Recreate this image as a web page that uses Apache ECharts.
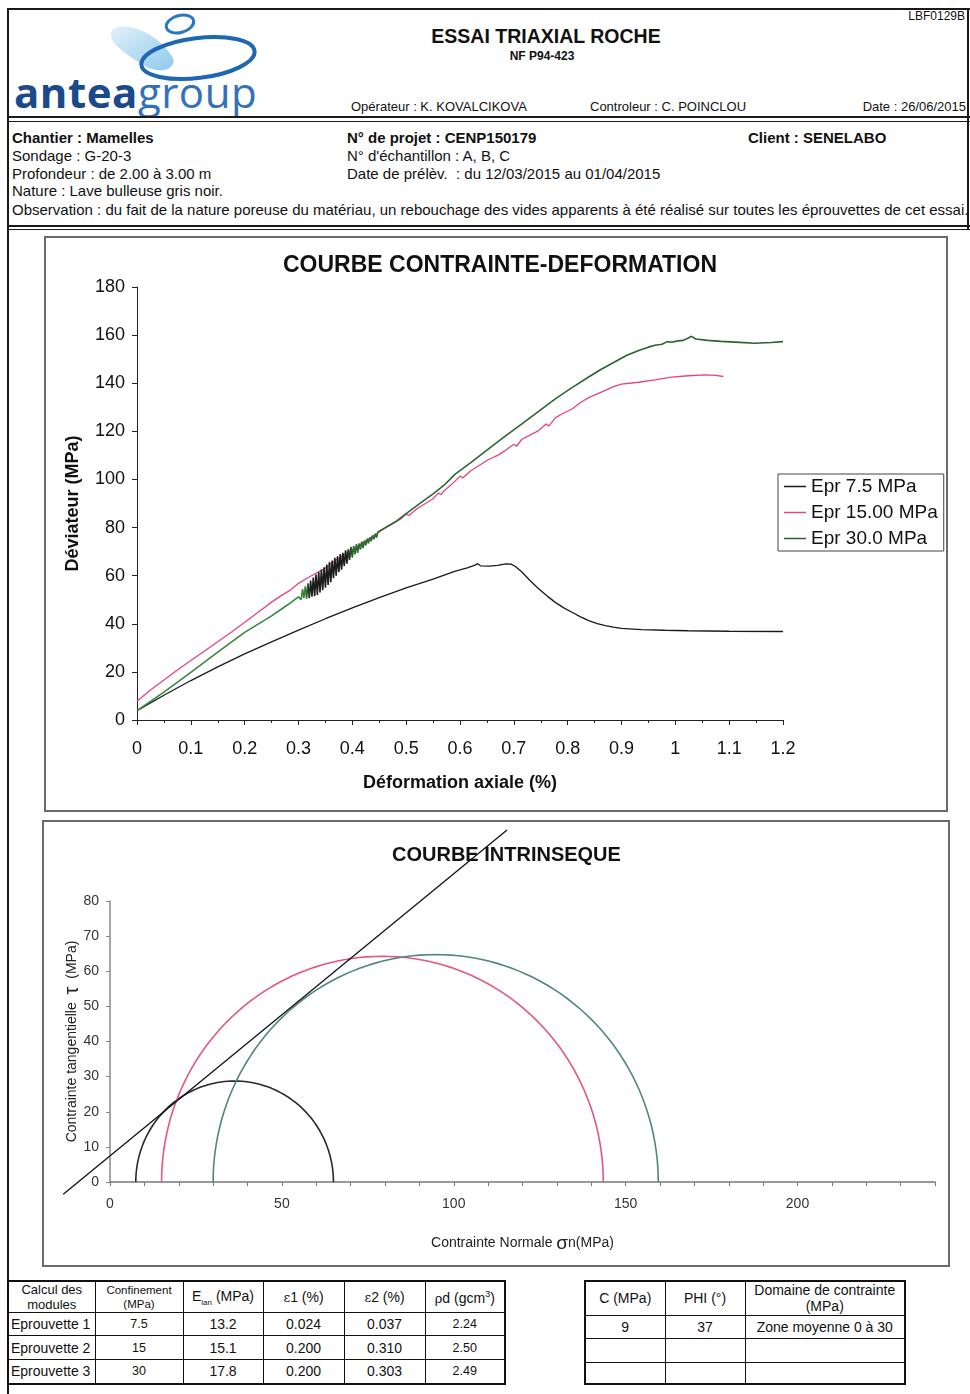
<!DOCTYPE html>
<html lang="fr">
<head>
<meta charset="utf-8">
<title>Essai triaxial roche</title>
<script src="https://cdn.jsdelivr.net/npm/echarts@6/dist/echarts.min.js"></script>
<style>
  html, body { margin: 0; padding: 0; background: #fff; }
  body { width: 970px; height: 1394px; position: relative; overflow: hidden;
         font-family: "Liberation Sans", Arial, sans-serif; color: #111; }
  .a { position: absolute; white-space: nowrap; }
  .hl { position: absolute; background: #1a1a1a; }
  .box { position: absolute; border: 2px solid #6a6a6a; box-sizing: border-box; pointer-events: none; }
  .chart { position: absolute; }
  table.grid { position: absolute; border-collapse: collapse; table-layout: fixed;
               border: 2px solid #111; font-size: 14px; }
  table.grid td { border: 1px solid #111; padding: 0; text-align: center; vertical-align: middle;
                  overflow: hidden; white-space: nowrap; }
  table.grid td.lbl { text-align: left; padding-left: 2px; }
  .gk { font-family: "DejaVu Serif", "Liberation Serif", serif; font-size: 13px; }
</style>
</head>
<body>

<!-- page frame -->
<div class="hl" style="left:7px;top:8px;width:963px;height:2px"></div>
<div class="hl" style="left:7px;top:8px;width:2px;height:1390px"></div>
<div class="hl" style="left:967px;top:8px;width:2px;height:222px"></div>

<!-- logo -->
<svg class="a" style="left:0;top:0" width="270" height="120">
  <defs>
    <linearGradient id="blob" x1="0" y1="0" x2="1" y2="1">
      <stop offset="0" stop-color="#e2f1fa"/>
      <stop offset="1" stop-color="#8ecaec"/>
    </linearGradient>
  </defs>
  <path d="M112,30 C127,19 160,35 173,58 C177,69 160,75 145,66 C129,56 105,42 112,30 Z" fill="url(#blob)"/>
  <ellipse cx="198" cy="58" rx="57" ry="20" transform="rotate(-7 198 58)" fill="none" stroke="#1f67b1" stroke-width="4"/>
  <ellipse cx="180" cy="24" rx="14" ry="8.5" transform="rotate(-15 180 24)" fill="none" stroke="#2a78c0" stroke-width="3"/>
</svg>
<div class="a" style="left:14px;top:71px;font-family:'Open Sans',sans-serif;font-size:42px;line-height:42px;letter-spacing:0.5px">
  <span style="font-weight:bold;color:#1b4a8a">antea</span><span style="color:#3471b8">group</span>
</div>

<!-- header -->
<div class="a" style="left:346px;width:400px;text-align:center;top:25px;font-size:19.5px;line-height:22px;font-weight:bold">ESSAI TRIAXIAL ROCHE</div>
<div class="a" style="left:442px;width:200px;text-align:center;top:49px;font-size:12px;line-height:14px;font-weight:bold">NF P94-423</div>
<div class="a" style="left:865px;width:100px;text-align:right;top:9px;font-size:12px;line-height:14px">LBF0129B</div>
<div class="a" style="left:351px;top:99px;font-size:13px;line-height:15px">Opérateur : K. KOVALCIKOVA</div>
<div class="a" style="left:590px;top:99px;font-size:13px;line-height:15px">Controleur : C. POINCLOU</div>
<div class="a" style="left:766px;width:200px;text-align:right;top:99px;font-size:13px;line-height:15px">Date : 26/06/2015</div>
<div class="hl" style="left:7px;top:116px;width:963px;height:2px"></div>
<div class="hl" style="left:7px;top:121px;width:963px;height:1px"></div>

<!-- identification block -->
<div class="a" style="left:12px;top:129px;font-size:15px;line-height:17px;font-weight:bold">Chantier : Mamelles</div>
<div class="a" style="left:12px;top:147px;font-size:15px;line-height:17px">Sondage : G-20-3</div>
<div class="a" style="left:12px;top:165px;font-size:15px;line-height:17px">Profondeur : de 2.00 à 3.00 m</div>
<div class="a" style="left:12px;top:182px;font-size:15px;line-height:17px">Nature : Lave bulleuse gris noir.</div>
<div class="a" style="left:12px;top:201px;width:956px;overflow:hidden;font-size:15px;line-height:17px">Observation : du fait de la nature poreuse du matériau, un rebouchage des vides apparents à été réalisé sur toutes les éprouvettes de cet essai.</div>
<div class="a" style="left:347px;top:129px;font-size:15px;line-height:17px;font-weight:bold">N° de projet : CENP150179</div>
<div class="a" style="left:347px;top:147px;font-size:15px;line-height:17px">N° d'échantillon : A, B, C</div>
<div class="a" style="left:347px;top:165px;font-size:15px;line-height:17px">Date de prélèv.&nbsp; : du 12/03/2015 au 01/04/2015</div>
<div class="a" style="left:748px;top:129px;font-size:15px;line-height:17px;font-weight:bold">Client : SENELABO</div>
<div class="hl" style="left:7px;top:225px;width:963px;height:2px"></div>
<div class="hl" style="left:7px;top:229px;width:963px;height:1px"></div>

<!-- charts -->
<div id="stress" class="chart" style="left:44px;top:236px;width:904px;height:576px"></div>
<div class="box" style="left:44px;top:236px;width:904px;height:576px"></div>
<div id="mohr" class="chart" style="left:42px;top:820px;width:908px;height:447px"></div>
<div class="box" style="left:42px;top:820px;width:908px;height:447px"></div>

<!-- module table -->
<table class="grid" style="left:7px;top:1280px;width:497px">
  <colgroup><col style="width:87px"><col style="width:88px"><col style="width:80px"><col style="width:81px"><col style="width:81px"><col style="width:80px"></colgroup>
  <tr style="height:31px">
    <td style="font-size:13px;line-height:15px">Calcul des<br>modules</td>
    <td style="font-size:11.5px;line-height:14px">Confinement<br>(MPa)</td>
    <td>E<sub style="font-size:8px">lan</sub> (MPa)</td>
    <td><span class="gk">ε</span>1 (%)</td>
    <td><span class="gk">ε</span>2 (%)</td>
    <td><span class="gk">ρ</span>d (gcm<sup style="font-size:9px">3</sup>)</td>
  </tr>
  <tr style="height:23px"><td class="lbl">Eprouvette 1</td><td style="font-size:12.5px">7.5</td><td>13.2</td><td>0.024</td><td>0.037</td><td style="font-size:12.5px">2.24</td></tr>
  <tr style="height:24px"><td class="lbl">Eprouvette 2</td><td style="font-size:12.5px">15</td><td>15.1</td><td>0.200</td><td>0.310</td><td style="font-size:12.5px">2.50</td></tr>
  <tr style="height:24px"><td class="lbl">Eprouvette 3</td><td style="font-size:12.5px">30</td><td>17.8</td><td>0.200</td><td>0.303</td><td style="font-size:12.5px">2.49</td></tr>
</table>

<!-- shear strength table -->
<table class="grid" style="left:584px;top:1280px;width:320px">
  <colgroup><col style="width:80px"><col style="width:80px"><col style="width:160px"></colgroup>
  <tr style="height:34px">
    <td>C (MPa)</td><td>PHI (°)</td>
    <td style="line-height:16px">Domaine de contrainte<br>(MPa)</td>
  </tr>
  <tr style="height:23px"><td>9</td><td>37</td><td>Zone moyenne 0 à 30</td></tr>
  <tr style="height:24px"><td></td><td></td><td></td></tr>
  <tr style="height:22px"><td></td><td></td><td></td></tr>
</table>

<script>
// ---- stress–strain records: [axial strain (%), deviator (MPa)] ----
const epr75 = [
  [0, 3.9], [0.05, 10.3], [0.1, 16.4], [0.15, 22.1], [0.2, 27.5], [0.25, 32.5],
  [0.3, 37.4], [0.35, 42.1], [0.4, 46.6], [0.45, 50.9], [0.5, 54.9], [0.55, 58.6],
  [0.59, 61.8], [0.615, 63.3], [0.628, 64.4], [0.633, 65], [0.638, 64.1], [0.655, 64],
  [0.67, 64.3], [0.685, 64.9], [0.695, 64.8], [0.703, 63.8], [0.715, 61.5], [0.73, 58],
  [0.746, 54.6], [0.762, 51.5], [0.777, 48.9], [0.792, 46.7], [0.808, 44.8], [0.824, 42.9],
  [0.839, 41.3], [0.855, 40.1], [0.87, 39.2], [0.885, 38.6], [0.9, 38.1], [0.937, 37.6],
  [0.98, 37.3], [1.024, 37.1], [1.1, 36.9], [1.2, 36.8]
];
const epr15 = [
  [0, 7.8], [0.025, 12.5], [0.05, 16.6], [0.075, 20.8], [0.1, 24.7], [0.125, 28.6],
  [0.15, 32.5], [0.175, 36.5], [0.2, 40.6], [0.225, 44.8], [0.25, 49], [0.27, 52],
  [0.285, 54], [0.3, 56.8], [0.315, 58.8], [0.33, 60.7], [0.35, 63.2], [0.37, 66.6],
  [0.4, 70.8], [0.43, 75.2], [0.46, 79.6], [0.49, 83.6], [0.5, 85.6], [0.505, 85],
  [0.52, 87.8], [0.55, 92], [0.56, 94.4], [0.565, 93.6], [0.57, 95.2], [0.591, 99.3],
  [0.6, 101.4], [0.605, 100.6], [0.62, 103.6], [0.64, 106.4], [0.653, 108.3], [0.67, 110],
  [0.684, 112], [0.7, 114.6], [0.705, 113.8], [0.715, 116.7], [0.73, 118.4], [0.746, 120.3],
  [0.76, 123], [0.765, 122.2], [0.777, 125.6], [0.79, 127.3], [0.808, 129.3], [0.824, 132],
  [0.839, 134], [0.855, 135.6], [0.87, 137], [0.885, 138.6], [0.9, 139.6], [0.932, 140.4],
  [0.962, 141.4], [0.993, 142.5], [1.024, 143.1], [1.055, 143.5], [1.075, 143.3], [1.089, 142.8]
];
const epr30 = [
  [0, 3.9], [0.05, 11.6], [0.1, 19.8], [0.15, 28.2], [0.2, 36.4], [0.25, 43.3],
  [0.28, 47.9], [0.3, 51.2],
  [0.305, 50.0], [0.3075, 54.4], [0.31, 50.7], [0.3125, 55.6], [0.315, 50.4], [0.3175, 56.8],
  [0.32, 50.6], [0.3225, 58.0], [0.325, 51.3], [0.3275, 59.2], [0.33, 51.5], [0.3325, 60.5],
  [0.335, 52.0], [0.3375, 61.5], [0.34, 53.0], [0.3425, 62.5], [0.345, 54.0], [0.3475, 63.5],
  [0.35, 55.0], [0.3525, 64.6], [0.355, 56.1], [0.3575, 65.7], [0.36, 57.3], [0.3625, 66.3],
  [0.365, 58.9], [0.3675, 67.4], [0.37, 60.0], [0.3725, 68.0], [0.375, 61.5], [0.3775, 69.0],
  [0.38, 62.5], [0.3825, 69.5], [0.385, 64.0], [0.3875, 70.5], [0.39, 65.0], [0.3925, 71.0],
  [0.395, 66.5], [0.3975, 72.0], [0.4, 67.5], [0.4025, 72.4], [0.405, 68.8], [0.4075, 73.1],
  [0.41, 69.5], [0.4125, 73.4], [0.415, 70.8], [0.4175, 74.2], [0.42, 71.5], [0.4225, 74.6],
  [0.425, 72.6], [0.4275, 75.4], [0.43, 73.4], [0.4325, 75.9], [0.435, 74.3], [0.4375, 76.7],
  [0.44, 75.1], [0.4425, 77.4], [0.445, 75.8], [0.4475, 78.2], [0.45, 77.6],
  [0.48, 82.4], [0.5, 85.8], [0.53, 90.8], [0.55, 94], [0.57, 97.5], [0.591, 102.2],
  [0.62, 107], [0.653, 112.7], [0.684, 118], [0.715, 123.1], [0.746, 128.3], [0.777, 133.5],
  [0.808, 138.2], [0.839, 142.6], [0.86, 145.5], [0.882, 148.2], [0.91, 151.6], [0.932, 153.6],
  [0.95, 155], [0.962, 155.8], [0.975, 156.2], [0.985, 157.3], [0.993, 157], [1.005, 157.6],
  [1.015, 157.8], [1.024, 158.8], [1.03, 159.5], [1.038, 158.4], [1.06, 157.8], [1.085, 157.4],
  [1.12, 157], [1.147, 156.6], [1.178, 156.9], [1.2, 157.3]
];
const specimenNames = ['Epr 7.5 MPa', 'Epr 15.00 MPa', 'Epr 30.0 MPa'];
const stressColors = ['#1a1a1a', '#e8457a', '#2d5e30'];

// ---- Mohr plane ----
const confinement = [7.5, 15, 30];                 // sigma3 (MPa)
const mohrColors = ['#2a2a2a', '#e2587d', '#4f8878'];
const envelope = [[-13.6, -3.5], [115.5, 100.2]];  // failure line end points (sigma, tau)

const FONT = '"Liberation Sans", Arial, sans-serif';
const records = [epr75, epr15, epr30];

// the densest oscillation of the 30 MPa record reads almost black
const epr30Stroke = {
  type: 'linear', x: 0, y: 0, x2: 1, y2: 0,
  colorStops: [
    { offset: 0, color: '#3a863c' }, { offset: 0.262, color: '#3a863c' },
    { offset: 0.27, color: '#1c1c1c' }, { offset: 0.326, color: '#1c1c1c' },
    { offset: 0.336, color: '#2f6a32' }, { offset: 1, color: stressColors[2] }
  ]
};

// ---------- stress–strain chart ----------
const stressChart = echarts.init(document.getElementById('stress'), null, { renderer: 'canvas' });
stressChart.setOption({
  animation: false,
  backgroundColor: '#fff',
  textStyle: { fontFamily: FONT },
  title: {
    text: 'COURBE CONTRAINTE-DEFORMATION',
    left: 239, top: 18, padding: 0,
    textStyle: { fontSize: 23, fontWeight: 'bold', color: '#111', fontFamily: FONT }
  },
  legend: {
    orient: 'vertical', left: 734, top: 238,
    padding: [2, 6, 2, 6], itemGap: 5,
    borderColor: '#444', borderWidth: 1, backgroundColor: '#fff',
    icon: 'rect', itemWidth: 22, itemHeight: 1.5,
    textStyle: { fontSize: 19, color: '#111', lineHeight: 21, fontFamily: FONT },
    data: specimenNames
  },
  grid: { left: 93, right: 165, top: 51, bottom: 92, containLabel: false },
  xAxis: {
    type: 'value', min: 0, max: 1.2, interval: 0.1,
    name: 'Déformation axiale (%)', nameLocation: 'middle', nameGap: 54,
    nameTextStyle: { fontSize: 18, fontWeight: 'bold', color: '#111', fontFamily: FONT },
    axisLine: { lineStyle: { color: '#222', width: 1 } },
    axisTick: { length: 5, lineStyle: { color: '#222' } },
    minorTick: { show: true, splitNumber: 2, length: 3, lineStyle: { color: '#222' } },
    splitLine: { show: false },
    axisLabel: { fontSize: 18, color: '#111', margin: 20, fontFamily: FONT,
                 formatter: v => String(+v.toFixed(1)) }
  },
  yAxis: {
    type: 'value', min: 0, max: 180, interval: 20,
    name: 'Déviateur (MPa)', nameLocation: 'middle', nameGap: 55, nameRotate: 90,
    nameTextStyle: { fontSize: 18, fontWeight: 'bold', color: '#111', fontFamily: FONT },
    axisLine: { show: true, lineStyle: { color: '#222', width: 1 } },
    axisTick: { show: true, length: 5, lineStyle: { color: '#222' } },
    splitLine: { show: false },
    axisLabel: { fontSize: 18, color: '#111', margin: 12, fontFamily: FONT }
  },
  series: records.map((d, i) => ({
    name: specimenNames[i], type: 'line', data: d,
    showSymbol: false, symbol: 'none',
    itemStyle: { color: stressColors[i] },
    lineStyle: { width: i === 2 ? 1.6 : 1.3, color: i === 2 ? epr30Stroke : stressColors[i] },
    z: i === 2 ? 3 : 2
  }))
});

// ---------- Mohr circles ----------
// Each circle spans from sigma3 to the peak deviator reached by the same specimen.
const peakDeviator = records.map(d => Math.max(...d.map(p => p[1])));
function mohrArc(s3, s1) {
  const c = (s1 + s3) / 2, r = (s1 - s3) / 2, pts = [];
  for (let a = 0; a <= 180; a += 2) {
    const t = a * Math.PI / 180;
    pts.push([c - r * Math.cos(t), r * Math.sin(t)]);
  }
  return pts;
}

const mohrChart = echarts.init(document.getElementById('mohr'), null, { renderer: 'canvas' });
mohrChart.setOption({
  animation: false,
  backgroundColor: '#fff',
  textStyle: { fontFamily: FONT },
  title: {
    text: 'COURBE INTRINSEQUE',
    left: 350, top: 25, padding: 0,
    textStyle: { fontSize: 20, fontWeight: 'bold', color: '#111', fontFamily: FONT }
  },
  grid: { left: 68, right: 15, top: 81, bottom: 85, containLabel: false },
  xAxis: {
    type: 'value', min: 0, max: 240, interval: 10,
    name: 'Contrainte Normale {s|σ}n(MPa)', nameLocation: 'middle', nameGap: 52,
    nameMoveOverlap: false,
    nameTextStyle: { fontSize: 14, color: '#222', fontFamily: FONT,
                     rich: { s: { fontSize: 19, color: '#222', fontFamily: FONT } } },
    axisLine: { lineStyle: { color: '#777', width: 1.5 } },
    axisTick: { length: 4, lineStyle: { color: '#777' } },
    splitLine: { show: false },
    axisLabel: { fontSize: 14, color: '#333', margin: 15, fontFamily: FONT,
                 formatter: v => (v % 50 === 0 ? String(v) : '') }
  },
  yAxis: {
    type: 'value', min: 0, max: 80, interval: 10,
    name: 'Contrainte tangentielle  {t|τ}  (MPa)', nameLocation: 'middle', nameGap: 28, nameRotate: 90,
    nameMoveOverlap: false,
    nameTextStyle: { fontSize: 14, color: '#222', fontFamily: FONT,
                     rich: { t: { fontSize: 20, color: '#222', fontFamily: FONT } } },
    axisLine: { show: true, lineStyle: { color: '#888', width: 1.5 } },
    axisTick: { show: true, length: 4, lineStyle: { color: '#888' } },
    splitLine: { show: false },
    axisLabel: { fontSize: 14, color: '#333', margin: 11, fontFamily: FONT }
  },
  series: confinement.map((s3, i) => ({
    type: 'line', data: mohrArc(s3, peakDeviator[i]),
    showSymbol: false, symbol: 'none',
    lineStyle: { width: 1.6, color: mohrColors[i] }
  })).concat([{
    // failure envelope, drawn past the plot frame on both ends
    type: 'custom', clip: false, z: 5,
    data: [[envelope[0][0], envelope[0][1], envelope[1][0], envelope[1][1]]],
    encode: { x: [0, 2], y: [1, 3] },
    renderItem: (params, api) => {
      const p1 = api.coord([api.value(0), api.value(1)]);
      const p2 = api.coord([api.value(2), api.value(3)]);
      return {
        type: 'line',
        shape: { x1: p1[0], y1: p1[1], x2: p2[0], y2: p2[1] },
        style: { stroke: '#111', lineWidth: 1.3 }
      };
    }
  }])
});
</script>
</body>
</html>
